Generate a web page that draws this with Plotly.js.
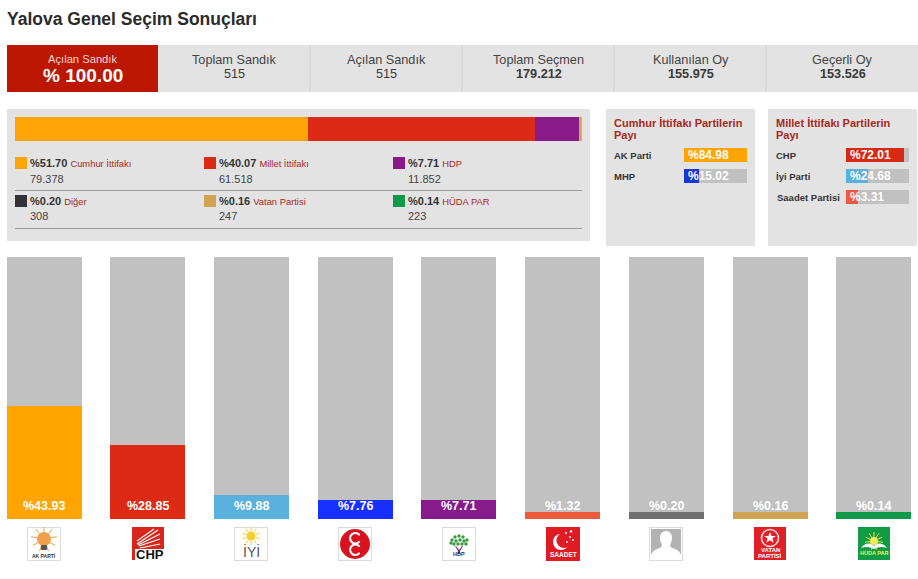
<!DOCTYPE html>
<html><head><meta charset="utf-8">
<script src="https://cdn.plot.ly/plotly-3.0.1.min.js"></script>
<style>html,body{margin:0;padding:0;background:#fff}#c{width:918px;height:579px}</style>
</head><body><div id="c"></div>
<script>
// ---------- data ----------
const columnParties = ['AK Parti','CHP','İyi Parti','MHP','HDP','Saadet Partisi','Diğer','Vatan Partisi','HÜDA PAR'];
const columnValues  = [43.93,28.85,9.88,7.76,7.71,1.32,0.20,0.16,0.14];
const columnColors  = ['#ffa400','#dc2a14','#5ab1dd','#1730ff','#871b8b','#ee5a3c','#707070','#d0a352','#0e9a48'];
const columnFloor   = 3.29;   // the source never draws a column shorter than this
const alliances     = ['Cumhur İttifakı','Millet İttifakı','HDP','Diğer','Vatan Partisi','HÜDA PAR'];
const allianceShare = [51.70,40.07,7.71,0.20,0.16,0.14];
const allianceVotes = ['79.378','61.518','11.852','308','247','223'];
const allianceColors= ['#ffa406','#dd2a14','#8a1a8a','#333337','#d0a352','#0e9a48'];
const stackColors   = ['#ffa406','#dd2a14','#8a1a8a','#c9a98c','#d0a352','#c2b29a'];
const cumhurParties = ['AK Parti','MHP'];
const cumhurShare   = [84.98,15.02];
const cumhurDrawn   = [100,24];          // length of the coloured part, % of its track, as pictured
const cumhurColors  = ['#ffa400','#1a35d2'];
const milletParties = ['CHP','İyi Parti','Saadet Partisi'];
const milletShare   = [72.01,24.68,3.31];
const milletDrawn   = [92,35,19];
const milletColors  = ['#d72a14','#5ab1dd','#ee5a3c'];
const statLabels    = ['Toplam Sandık','Açılan Sandık','Toplam Seçmen','Kullanılan Oy','Geçerli Oy'];
const statValues    = ['515','515','179.212','155.975','153.526'];
const fmt = v => '%' + v.toFixed(2);

// ---------- helpers: page pixels to paper fractions ----------
const W = 918, H = 579;
const px = x => x / W, py = y => 1 - y / H;
const FONT = 'Liberation Sans, Arial, sans-serif';
const rect = (x0,y0,x1,y1,c) => ({type:'rect',xref:'paper',yref:'paper',x0:px(x0),x1:px(x1),y0:py(y0),y1:py(y1),fillcolor:c,line:{width:0},layer:'below'});
const hline = (x0,x1,y,c) => ({type:'line',xref:'paper',yref:'paper',x0:px(x0),x1:px(x1),y0:py(y),y1:py(y),line:{color:c,width:1},layer:'below'});
const vline = (x,y0,y1,c) => ({type:'line',xref:'paper',yref:'paper',x0:px(x),x1:px(x),y0:py(y0),y1:py(y1),line:{color:c,width:1},layer:'below'});
const txt = (x,y,text,size,color,align,bold) => ({xref:'paper',yref:'paper',x:px(x),y:py(y),text:bold?'<b>'+text+'</b>':text,showarrow:false,xanchor:align||'left',yanchor:'middle',align:align||'left',font:{family:FONT,size:size,color:color},borderpad:0,borderwidth:0});

const shapes = [], annotations = [], traces = [];
const PANEL = '#e3e3e3', TRACK = '#c1c1c1', RED = '#a9291c', DARK = '#333';

// ---------- header ----------
annotations.push(txt(7,19,'Yalova Genel Seçim Sonuçları',17.5,'#2b2b2b','left',true));
shapes.push(rect(7,45,158,92,'#bc1702'), rect(158,45,918,92,PANEL));
annotations.push(txt(82.5,59,'Açılan Sandık',11.2,'#f4d8d0','center'));
annotations.push(txt(82.5,76,'% 100.00',19,'#fff','center',true));
statLabels.forEach((s,i)=>{
  const cx = 234.5 + i*152;
  if(i) shapes.push(vline(158+i*152,45,92,'#cfcfcf'));
  annotations.push(txt(cx,60,s,12.7,'#444','center'));
  annotations.push(txt(cx,74,statValues[i],12.7,'#3a3a3a','center',i>=2));
});

// ---------- panels ----------
shapes.push(rect(7,109,590,241,PANEL), rect(606,109,755,246,PANEL), rect(768,109,917,246,PANEL));
shapes.push(hline(15,582,190.5,'#9c9c9c'), hline(15,582,228.5,'#9c9c9c'));

// stacked alliance bar
alliances.forEach((a,i)=>traces.push({type:'bar',orientation:'h',x:[allianceShare[i]],y:['pay'],xaxis:'x2',yaxis:'y2',marker:{color:stackColors[i],line:{width:0}},width:1,hoverinfo:'skip'}));

// alliance legend
const legX = [15,204,393], legY = [163,201];
alliances.forEach((a,i)=>{
  const c = i%3, r = Math.floor(i/3), x = legX[c], y = legY[r];
  shapes.push(rect(x,y-6,x+12,y+6,allianceColors[i]));
  const share = fmt(allianceShare[i]);
  annotations.push(txt(x+15,y,'<b>'+share+'</b> <span style="font-size:9.4px;color:'+RED+'">'+a+'</span>',11,DARK,'left'));
  annotations.push(txt(x+15,y+15.5,allianceVotes[i],11,'#444','left'));
});

// alliance member panels
annotations.push(txt(614,123,'Cumhur İttifakı Partilerin',11,RED,'left',true));
annotations.push(txt(614,135,'Payı',11,RED,'left',true));
annotations.push(txt(776,123,'Millet İttifakı Partilerin',11,RED,'left',true));
annotations.push(txt(776,135,'Payı',11,RED,'left',true));

function members(names,share,drawn,colors,xa,ya,lx,barx){
  traces.push({type:'bar',orientation:'h',y:names,x:drawn,xaxis:xa,yaxis:ya,width:0.62,marker:{color:colors,line:{width:0}},hoverinfo:'skip'});
  traces.push({type:'bar',orientation:'h',y:names,x:drawn.map(d=>100-d),xaxis:xa,yaxis:ya,width:0.62,marker:{color:TRACK,line:{width:0}},hoverinfo:'skip'});
  names.forEach((n,i)=>{
    const y = 155 + i*21;
    annotations.push(txt(lx+(n==='Saadet Partisi'?1:0),y,n,9.5,DARK,'left',true));
    annotations.push(txt(barx+4,y,fmt(share[i]),12,'#fff','left',true));
  });
}
members(cumhurParties,cumhurShare,cumhurDrawn,cumhurColors,'x3','y3',614,684);
members(milletParties,milletShare,milletDrawn,milletColors,'x4','y4',776,846);

// ---------- columns ----------
const yLow = 0.62, yTop = 100.62;
const drawnCols = columnValues.map(v=>Math.max(v,columnFloor));
traces.push({type:'bar',x:columnParties,y:drawnCols,xaxis:'x',yaxis:'y',width:0.72324,marker:{color:columnColors,line:{width:0}},hoverinfo:'skip'});
traces.push({type:'bar',x:columnParties,y:drawnCols.map(d=>yTop-d),xaxis:'x',yaxis:'y',width:0.72324,marker:{color:TRACK,line:{width:0}},hoverinfo:'skip'});
columnParties.forEach((p,i)=>annotations.push({xref:'x',yref:'paper',x:p,y:py(505.5),text:'<b>'+fmt(columnValues[i])+'</b>',showarrow:false,yanchor:'middle',font:{family:FONT,size:12.5,color:'#fff'}}));

// ---------- logos ----------
const svg = (w,h,body) => 'data:image/svg+xml;utf8,' + encodeURIComponent('<svg xmlns="http://www.w3.org/2000/svg" width="'+w*4+'" height="'+h*4+'" viewBox="0 0 '+w+' '+h+'">'+body+'</svg>');
const box = '<rect x="0.5" y="0.5" width="33" height="33" fill="#fff" stroke="#dcdcdc"/>';
const rays = (cx,cy,r0,r1,n,col,w) => { let s=''; for(let i=0;i<n;i++){const a=Math.PI*2*i/n-Math.PI/2; s+='<line x1="'+(cx+r0*Math.cos(a))+'" y1="'+(cy+r0*Math.sin(a))+'" x2="'+(cx+r1*Math.cos(a))+'" y2="'+(cy+r1*Math.sin(a))+'" stroke="'+col+'" stroke-width="'+w+'"/>';} return s; };
let tree=''; [[17,9],[13,10],[21,10],[10,13],[14,14],[18,13],[22,14],[25,13],[12,17],[16,17],[20,17],[24,17],[9,16]].forEach(p=>tree+='<circle cx="'+p[0]+'" cy="'+p[1]+'" r="1.7" fill="#3f9a3f"/>');
const logos = [
 {x:27,w:34,b:box+rays(17,12,7,13,9,'#e8a23c',1)+'<circle cx="17" cy="12" r="7" fill="#f0a04a"/><rect x="14" y="18" width="6" height="5" rx="1" fill="#555"/>'},
 {x:132,w:32,b:'<rect width="32" height="33" fill="#d8261c"/><g stroke="#fff" stroke-width="1.1" fill="none"><path d="M5 17L26 3"/><path d="M6 18L28 7"/><path d="M7 19L28 12"/><path d="M8 21L28 17"/><path d="M5 14L22 2"/></g><rect x="3" y="22" width="29" height="11" fill="#fff"/>'},
 {x:234,w:34,b:box+rays(17,9,5,9,10,'#f3c92c',1)+'<circle cx="17" cy="9" r="4.5" fill="#f6cf2e"/>'},
 {x:338,w:34,b:box+'<circle cx="17" cy="17" r="15" fill="#d8131f"/><g fill="none" stroke="#fff" stroke-width="2.2" stroke-linecap="round"><path d="M21 7.5A5.2 5.2 0 1 0 21 15"/><path d="M21 19A5.2 5.2 0 1 0 21 26.5"/></g>'},
 {x:442,w:34,b:box+tree+'<path d="M14 19L17 23L20 19L21 19L18 24L18 27L16 27L16 24L13 19z" fill="#7a2a8c"/>'},
 {x:546,w:34,b:'<rect width="34" height="34" fill="#e01b24"/><circle cx="15" cy="15" r="8" fill="#fff"/><circle cx="18" cy="13.5" r="7.6" fill="#e01b24"/><g fill="#fff"><circle cx="20" cy="6" r="1.1"/><circle cx="25" cy="4.5" r="1.2"/><circle cx="24" cy="10" r="1"/><circle cx="27" cy="13" r="1"/><circle cx="21" cy="15" r="0.9"/></g>'},
 {x:649,w:34,b:box+'<rect x="2" y="2" width="30" height="30" fill="#b2b2b2"/><path d="M17 4c4 0 6 3 6 7c0 3-1 5-2 7c0 2 2 3 5 4c3 1 5 3 6 6v4H2v-4c1-3 3-5 6-6c3-1 5-2 5-4c-1-2-2-4-2-7c0-4 2-7 6-7z" fill="#fff"/>'},
 {x:754,w:32,b:'<rect width="32" height="33" fill="#df2027"/><circle cx="16" cy="11" r="8.5" fill="none" stroke="#f7d7d7" stroke-width="1.6"/><path d="M16 5l1.6 4h4.2l-3.4 2.6 1.3 4.2-3.7-2.6-3.7 2.6 1.3-4.2-3.4-2.6h4.2z" fill="#fff"/>'},
 {x:858,w:32,b:'<rect width="32" height="33" fill="#109b45"/>'+rays(16,14,4,9,11,'#f6ea55',1)+'<circle cx="16" cy="14" r="4" fill="#f6ea55"/><path d="M3 21C8 15 13 16 16 19C19 16 24 15 29 21C24 19 20 20 16 22C12 20 8 19 3 21z" fill="#fff"/>'}
];
const images = logos.map(l=>({source:svg(l.w,34,l.b),xref:'paper',yref:'paper',x:px(l.x),y:py(527),sizex:l.w/W,sizey:34/H,xanchor:'left',yanchor:'top',sizing:'stretch',layer:'above'}));
annotations.push(txt(44,556,'AK PARTİ',5,'#333','center',true));
annotations.push(txt(149.5,554,'CHP',13,'#111','center',true));
annotations.push(txt(251,551,'İYİ',14,'#555','center'));
annotations.push(txt(459,554,'HDP',5.5,'#333','center',true));
annotations.push(txt(563,554,'SAADET',6.5,'#fff','center',true));
annotations.push(txt(770,550,'VATAN',6,'#fff','center',true));
annotations.push(txt(770,556,'PARTİSİ',6,'#fff','center',true));
annotations.push(txt(874,553,'HÜDA PAR',5.5,'#f2ef6a','center',true));

// ---------- axes ----------
const off = {showgrid:false,zeroline:false,showticklabels:false,ticks:'',showline:false,fixedrange:true};
const layout = {
  width:W,height:H,margin:{l:0,r:0,t:0,b:0,pad:0},paper_bgcolor:'#fff',plot_bgcolor:'rgba(0,0,0,0)',
  showlegend:false,barmode:'stack',bargap:0,shapes,annotations,images,
  xaxis:{...off,domain:[0,1],type:'category',categoryorder:'array',categoryarray:columnParties,range:[-0.42575,8.4267]},
  yaxis:{...off,domain:[py(519),py(257)],range:[yLow,yTop]},
  xaxis2:{...off,domain:[px(15),px(582)],range:[0,99.98],anchor:'y2'},
  yaxis2:{...off,domain:[py(141),py(117)],anchor:'x2',type:'category',range:[-0.5,0.5]},
  xaxis3:{...off,domain:[px(684),px(747)],range:[0,100],anchor:'y3'},
  yaxis3:{...off,domain:[py(186.5),py(144.5)],anchor:'x3',type:'category',categoryorder:'array',categoryarray:cumhurParties,range:[1.5,-0.5]},
  xaxis4:{...off,domain:[px(846),px(909)],range:[0,100],anchor:'y4'},
  yaxis4:{...off,domain:[py(207.5),py(144.5)],anchor:'x4',type:'category',categoryorder:'array',categoryarray:milletParties,range:[2.5,-0.5]}
};
Plotly.newPlot('c',traces,layout,{displayModeBar:false,staticPlot:true});
</script></body></html>
